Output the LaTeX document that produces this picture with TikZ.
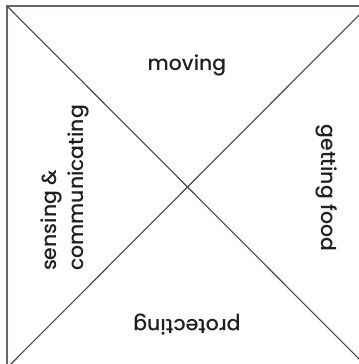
\documentclass[tikz,border=0pt]{standalone}
\usepackage{fontspec}
\setmainfont{Poppins Medium}
\usetikzlibrary{positioning,calc}
\definecolor{Edge}{HTML}{6B6566}
\definecolor{Cross}{HTML}{4A4546}
\definecolor{Ink}{HTML}{231F20}

\tikzset{
  quadlabel/.style={font=\fontsize{20.5}{27}\selectfont, text=Ink, inner sep=0pt, align=left},
  frameline/.style={draw=Edge, line width=1.6pt},
  crossline/.style={draw=Cross, line width=1.1pt}
}

\begin{document}
\begin{tikzpicture}[x=1bp, y=-1bp]

\useasboundingbox (0,0) rectangle (359,364);

% square corners (the right and bottom sides lie outside the picture)
\coordinate (tl) at (7,6);
\coordinate (tr) at (368,6);
\coordinate (bl) at (7,368);
\coordinate (br) at (368,368);

\draw[frameline] (bl) -- (tl) -- (tr);
\draw[crossline] (tl) -- (br);
\draw[crossline] (bl) -- (tr);

% quadrant labels
\node[quadlabel] (moving) at (187,65) {moving};
\node[quadlabel, rotate=90] (sensing) at (65,188) {sensing \&\\communicating};
\node[quadlabel, rotate=-90] (food) at (327,188) {getting food};
\node[quadlabel, rotate=180] (protect) at (187,325) {protecting};

\end{tikzpicture}
\end{document}
